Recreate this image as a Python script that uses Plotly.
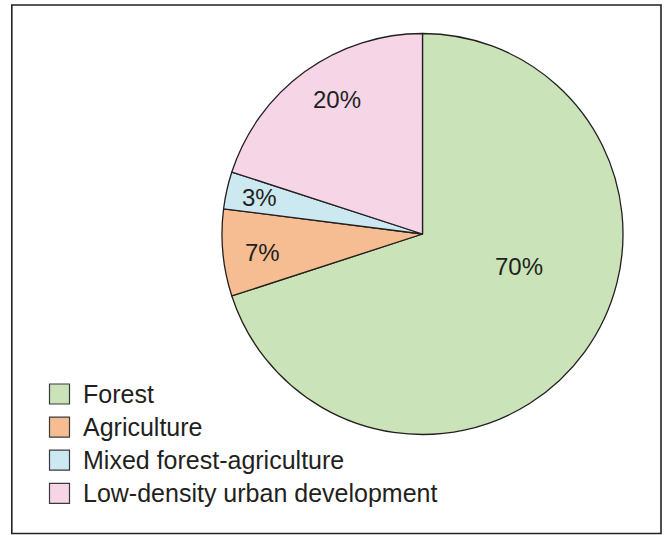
import plotly.graph_objects as go

# land-use shares (%)
labels = ["Forest", "Agriculture", "Mixed forest-agriculture", "Low-density urban development"]
values = [70, 7, 3, 20]
colors = ["#cae3b8", "#f7bd92", "#cce9f1", "#f5d5e6"]

W, H = 664, 535
CX, CY, R = 422.5, 234, 200.5  # pie centre / radius in px
INK = "#231f20"
FONT = "Liberation Sans, Arial, sans-serif"

# label offsets from pie centre (px), one per slice
label_offsets = [(96.5, 32.5), (-160.5, 18.5), (-163.5, -36.5), (-85.5, -135)]


def px(x):
    return x / W


def py(y):
    return 1 - y / H


fig = go.Figure()
fig.add_trace(go.Pie(
    labels=labels, values=values, sort=False, direction="clockwise", rotation=0,
    marker=dict(colors=colors, line=dict(color=INK, width=1.3)),
    textinfo="none", hoverinfo="label+percent", showlegend=False,
    domain=dict(x=[px(CX - R), px(CX + R)], y=[py(CY + R), py(CY - R)]),
))

# percentage labels on the slices
for v, (dx, dy) in zip(values, label_offsets):
    fig.add_annotation(x=px(CX + dx), y=py(CY + dy), xref="paper", yref="paper",
                       text=f"{v}%", showarrow=False, xanchor="center", yanchor="middle",
                       font=dict(size=24, color=INK, family=FONT))

# legend (drawn by hand so the swatches match the larger squares)
for i, (lab, col) in enumerate(zip(labels, colors)):
    yc = 394 + i * 33.1
    fig.add_shape(type="rect", xref="paper", yref="paper",
                  x0=px(49.5), x1=px(69.5), y0=py(yc - 10), y1=py(yc + 10),
                  fillcolor=col, line=dict(color="#3a3a3a", width=1.2))
    fig.add_annotation(x=px(81), y=py(yc), xref="paper", yref="paper",
                       text=lab, showarrow=False, xanchor="left", yanchor="middle",
                       font=dict(size=25, color=INK, family=FONT))

# outer frame
fig.add_shape(type="rect", xref="paper", yref="paper",
              x0=px(11.8), x1=px(661), y0=py(533.5), y1=py(5),
              line=dict(color="#222222", width=1.6), fillcolor="rgba(0,0,0,0)")

fig.update_layout(
    width=W, height=H,
    margin=dict(l=0, r=0, t=0, b=0),
    paper_bgcolor="white", plot_bgcolor="white",
    font=dict(family=FONT, color=INK),
)

# drop the default page margin so the figure sits at the window origin
fig.write_html("out.html", config={"displayModeBar": False},
               post_script="document.body.style.margin='0';")
